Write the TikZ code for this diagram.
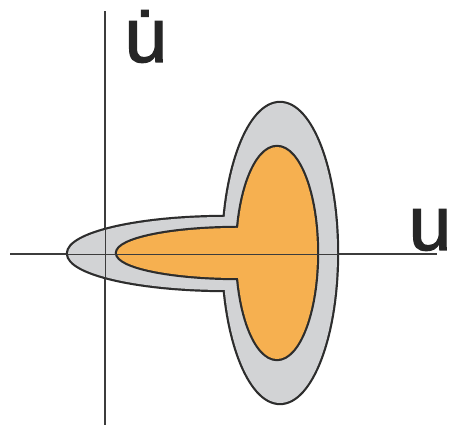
\documentclass[tikz,border=0pt]{standalone}
\usepackage{fontspec}
\setmainfont{Liberation Sans}
\usepackage{xcolor}
\definecolor{ZoneGray}{RGB}{210,211,213}
\definecolor{ZoneOrange}{RGB}{246,176,80}
\definecolor{EdgeGray}{RGB}{45,45,45}
\definecolor{AxisGray}{RGB}{60,60,60}
\usetikzlibrary{positioning}

\begin{document}
\begin{tikzpicture}[x=1pt, y=1pt,
    rim/.style={draw=EdgeGray, line width=4.4pt},
    ax/.style={draw=AxisGray, line width=2.2pt},
    axthin/.style={draw=AxisGray, line width=0.9pt},
    lbl/.style={font=\fontsize{77}{80}\selectfont\addfontfeature{FakeBold=1.6}, text=black!85, inner sep=0pt}
]
    \useasboundingbox (0,0) rectangle (453,427);
    % axes
    \draw[ax] (10,173) -- (437,173);
    \draw[ax] (105,2) -- (105,416);
    % outer band
    \path[rim] (280,174) ellipse[x radius=57, y radius=150];
    \path[rim] (245,210) -- (226,210) arc[start angle=90, end angle=270, x radius=158, y radius=36.5] -- (245,137) -- cycle;
    \fill[ZoneGray] (280,174) ellipse[x radius=57, y radius=150];
    \fill[ZoneGray] (245,210) -- (226,210) arc[start angle=90, end angle=270, x radius=158, y radius=36.5] -- (245,137) -- cycle;
    % inner zone
    \path[rim] (277,174) ellipse[x radius=40, y radius=106];
    \path[rim] (260,199) -- (238,199) arc[start angle=90, end angle=270, x radius=121, y radius=25] -- (260,149) -- cycle;
    \fill[ZoneOrange] (277,174) ellipse[x radius=40, y radius=106];
    \fill[ZoneOrange] (260,199) -- (238,199) arc[start angle=90, end angle=270, x radius=121, y radius=25] -- (260,149) -- cycle;
    % axes through the zones
    \draw[axthin] (10,173) -- (437,173);
    \draw[axthin] (105,2) -- (105,416);
    % labels
    \node[lbl, anchor=base] (udot) at (146,365) {\.{u}};
    \node[lbl, anchor=base] (uaxis) at (430,177) {u};
\end{tikzpicture}
\end{document}
